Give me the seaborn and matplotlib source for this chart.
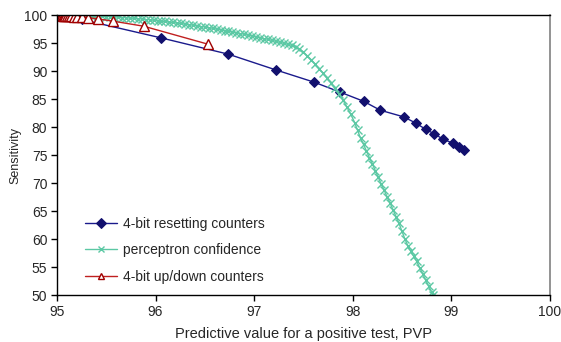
import matplotlib
matplotlib.use("Agg")
import matplotlib.pyplot as plt
import seaborn as sns
import pandas as pd

# ---- data ----
reset_pvp = [95.00, 95.05, 95.12, 95.25, 96.06, 96.74, 97.22, 97.61, 97.87, 98.11,
             98.28, 98.52, 98.64, 98.74, 98.83, 98.92, 99.02, 99.08, 99.13]
reset_sens = [100.0, 99.85, 99.6, 99.2, 95.9, 93.0, 90.2, 88.0, 86.25, 84.6,
              83.0, 81.8, 80.7, 79.6, 78.75, 77.8, 77.1, 76.4, 75.9]

percep_pvp = [95.02, 95.04, 95.06, 95.08, 95.10, 95.12, 95.14, 95.16, 95.18, 95.20,
              95.22, 95.24, 95.26, 95.28, 95.30, 95.34, 95.38,
              95.42, 95.46, 95.50, 95.54, 95.58, 95.62, 95.66, 95.70, 95.74, 95.78,
              95.82, 95.86, 95.90, 95.94, 95.98, 96.02, 96.06, 96.10, 96.14, 96.18,
              96.22, 96.26, 96.30, 96.34, 96.38, 96.42, 96.46, 96.50, 96.54, 96.58,
              96.62, 96.66, 96.70, 96.74, 96.78, 96.82, 96.86, 96.90, 96.94, 96.98,
              97.02, 97.06, 97.10, 97.14, 97.18, 97.22, 97.26, 97.30, 97.34, 97.38,
              97.42, 97.46, 97.50, 97.54, 97.58, 97.62, 97.66, 97.70, 97.74, 97.78,
              97.82, 97.86, 97.90, 97.94, 97.98, 98.02, 98.05, 98.08, 98.11, 98.14,
              98.17, 98.20, 98.23, 98.26, 98.29, 98.32, 98.35, 98.38, 98.41, 98.44,
              98.47, 98.50, 98.53, 98.56, 98.59, 98.62, 98.65, 98.68, 98.71, 98.74,
              98.77, 98.80, 98.82]
percep_sens = [100.0, 99.97, 100.0, 99.94, 99.95, 99.96, 99.98, 99.91, 99.92, 99.95,
               99.95, 99.88, 99.90, 99.93, 99.91, 99.85, 99.86,
               99.78, 99.80, 99.72, 99.72, 99.64, 99.63, 99.55, 99.53, 99.44, 99.42,
               99.32, 99.30, 99.19, 99.16, 99.05, 99.01, 98.88, 98.85, 98.72, 98.68,
               98.55, 98.49, 98.36, 98.29, 98.16, 98.08, 97.94, 97.86, 97.72, 97.63,
               97.48, 97.38, 97.22, 97.12, 96.96, 96.85, 96.68, 96.57, 96.40, 96.28,
               96.10, 95.97, 95.79, 95.65, 95.46, 95.32, 95.12, 94.97, 94.78, 94.60,
               94.36, 93.95, 93.40, 92.70, 92.00, 91.20, 90.40, 89.60, 88.70, 87.90,
               86.90, 85.90, 84.90, 83.60, 82.30, 80.80, 79.40, 78.00, 76.90, 75.70,
               74.50, 73.40, 72.20, 71.00, 69.80, 68.70, 67.50, 66.40, 65.20, 64.00,
               62.80, 61.40, 60.00, 58.80, 57.80, 56.90, 56.00, 54.90, 53.80, 52.70,
               51.60, 50.60, 50.00]

updown_pvp = [95.00, 95.01, 95.02, 95.03, 95.04, 95.05, 95.06, 95.07, 95.08, 95.10,
              95.12, 95.14, 95.17, 95.20, 95.25, 95.31, 95.42, 95.57, 95.88, 96.53]
updown_sens = [100.0, 99.98, 99.97, 99.95, 99.93, 99.92, 99.9, 99.88, 99.86, 99.83,
               99.8, 99.77, 99.73, 99.7, 99.6, 99.55, 99.3, 98.9, 98.0, 94.8]

labels = ["4-bit resetting counters", "perceptron confidence", "4-bit up/down counters"]
x_ticks = [95, 96, 97, 98, 99, 100]
y_ticks = [50, 55, 60, 65, 70, 75, 80, 85, 90, 95, 100]

sns.set_style("ticks")
plt.rcParams['font.family'] = ['Liberation Sans', 'DejaVu Sans']

fig = plt.figure(figsize=(5.61, 3.42), dpi=100)
ax = fig.add_axes([0.1016, 0.1374, 0.8784, 0.8187])

blue = "#1a1a8c"
green = "#5cc8a4"
red = "#c02020"

sns.lineplot(x=reset_pvp, y=reset_sens, ax=ax, sort=False, estimator=None,
             color=blue, lw=1.0, marker="D", markersize=5.5,
             markerfacecolor="#12106e", markeredgecolor="#12106e", label=labels[0])
sns.lineplot(x=percep_pvp, y=percep_sens, ax=ax, sort=False, estimator=None,
             color=green, lw=1.0, marker="x", markersize=5.5, markeredgewidth=1.0,
             markeredgecolor=green, label=labels[1])
sns.lineplot(x=updown_pvp, y=updown_sens, ax=ax, sort=False, estimator=None,
             color=red, lw=1.0, marker="^", markersize=6.5, markerfacecolor="white",
             markeredgecolor="#a00000", markeredgewidth=1.0, label=labels[2])

ax.set_xlim(95, 100)
ax.set_ylim(50, 100)
ax.set_xticks(x_ticks)
ax.set_yticks(y_ticks)
ax.set_xticklabels([str(v) for v in x_ticks], fontsize=10)
ax.set_yticklabels([str(v) for v in y_ticks], fontsize=10)
ax.tick_params(direction="out", length=4, width=1, color="black", pad=3)
for s in ["left", "bottom", "top"]:
    ax.spines[s].set_color("black")
    ax.spines[s].set_linewidth(1.0)
ax.spines["right"].set_color("#808080")
ax.spines["right"].set_linewidth(1.2)
ax.grid(False)

ax.set_xlabel("Predictive value for a positive test, PVP", fontsize=10.5, labelpad=6)
ax.set_ylabel("Sensitivity", fontsize=9, labelpad=2)

leg = ax.legend(loc="upper left", bbox_to_anchor=(0.032, 0.325), frameon=False,
                fontsize=10, handlelength=2.3, handletextpad=0.4, labelspacing=0.9)
for h in leg.legend_handles:
    h.set_markersize(5)

fig.savefig("out.png", dpi=100)
